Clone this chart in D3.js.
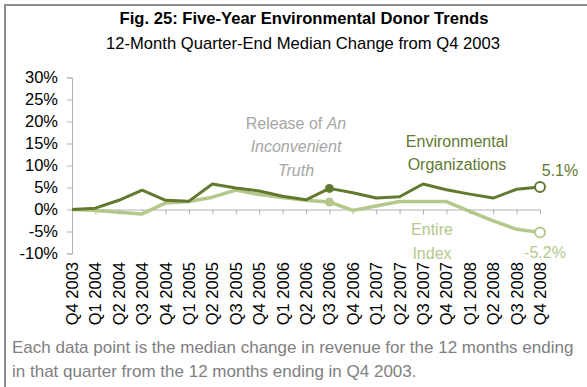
<!DOCTYPE html>
<html>
<head>
<meta charset="utf-8">
<script src="https://cdn.jsdelivr.net/npm/d3@7"></script>
<style>
  body { margin: 0; background: #fff; }
  svg { display: block; font-family: "Liberation Sans", Arial, sans-serif; }
</style>
</head>
<body>
<script>
// quarters along the x axis
var quarters = ["Q4 2003","Q1 2004","Q2 2004","Q3 2004","Q4 2004","Q1 2005","Q2 2005","Q3 2005",
  "Q4 2005","Q1 2006","Q2 2006","Q3 2006","Q4 2006","Q1 2007","Q2 2007","Q3 2007","Q4 2007",
  "Q1 2008","Q2 2008","Q3 2008","Q4 2008"];

// median change from Q4 2003, percent
var envOrgs = [0, 0.3, 2.1, 4.4, 2.1, 1.9, 5.8, 4.9, 4.2, 3.0, 2.2, 4.8, 3.8, 2.6, 2.9, 5.8, 4.5,
  3.5, 2.6, 4.6, 5.1];
var entireIndex = [0, -0.2, -0.6, -1.0, 1.5, 1.8, 2.8, 4.4, 3.4, 2.7, 2.1, 1.7, -0.2, 0.8, 1.8, 1.8,
  1.8, -0.4, -2.6, -4.5, -5.2];

var yTicks = [-10, -5, 0, 5, 10, 15, 20, 25, 30];
var releaseIdx = 11; // Q3 2006

var W = 587, H = 387;
var DARK = "#62792f", LIGHT = "#b3c88a", NOTE = "#a6a6a6", AXIS = "#b3b3b3";

// plain hyphen for negatives, like the original
function pct(d, digits) {
  return d3.format("." + digits + "f")(d).replace("\u2212", "-") + "%";
}

var svg = d3.select("body").append("svg")
  .attr("width", W)
  .attr("height", H);

// frame (only top and left edge are visible in the picture)
svg.append("path")
  .attr("d", "M5," + H + "L5,5L" + W + ",5")
  .attr("fill", "none")
  .attr("stroke", "#8c8c8c")
  .attr("stroke-width", 2);

svg.append("text")
  .attr("x", 304).attr("y", 24)
  .attr("text-anchor", "middle")
  .style("font-size", "16.6px").style("font-weight", "bold")
  .text("Fig. 25: Five-Year Environmental Donor Trends");
svg.append("text")
  .attr("x", 303).attr("y", 49)
  .attr("text-anchor", "middle")
  .style("font-size", "16.6px")
  .text("12-Month Quarter-End Median Change from Q4 2003");

var x = d3.scalePoint().domain(quarters).range([72, 540]);
var y = d3.scaleLinear().domain([-10, 30]).range([253.5, 77.5]);

// y axis
var yAxis = svg.append("g")
  .attr("transform", "translate(72,0)")
  .call(d3.axisLeft(y).tickValues(yTicks).tickSize(5).tickPadding(9)
    .tickFormat(function (d) { return pct(d, 0); }));
yAxis.select(".domain").attr("stroke", AXIS);
yAxis.selectAll(".tick line").attr("stroke", AXIS);
yAxis.selectAll("text").attr("fill", "#000").style("font-size", "16.5px").attr("font-family", null);

// x axis at zero
var xAxis = svg.append("g")
  .attr("transform", "translate(0," + y(0) + ")")
  .call(d3.axisBottom(x).tickSize(5).tickSizeOuter(0));
xAxis.select(".domain").attr("stroke", AXIS);
xAxis.selectAll(".tick line").attr("stroke", AXIS);
xAxis.selectAll("text").remove();

// rotated quarter labels
svg.append("g").selectAll("text")
  .data(quarters)
  .enter().append("text")
  .attr("transform", function (d) { return "translate(" + (x(d) + 6) + ",262) rotate(-90)"; })
  .attr("text-anchor", "end")
  .style("font-size", "16.5px")
  .text(function (d) { return d; });

var line = d3.line()
  .x(function (d, i) { return x(quarters[i]); })
  .y(function (d) { return y(d); });

svg.append("path").datum(entireIndex)
  .attr("d", line).attr("fill", "none")
  .attr("stroke", LIGHT).attr("stroke-width", 3.5).attr("stroke-linejoin", "round");
svg.append("path").datum(envOrgs)
  .attr("d", line).attr("fill", "none")
  .attr("stroke", DARK).attr("stroke-width", 3).attr("stroke-linejoin", "round");

// release markers and end markers
[[entireIndex, LIGHT], [envOrgs, DARK]].forEach(function (s) {
  svg.append("circle")
    .attr("cx", x(quarters[releaseIdx])).attr("cy", y(s[0][releaseIdx]))
    .attr("r", 4.5).attr("fill", s[1]);
  var last = s[0].length - 1;
  svg.append("circle")
    .attr("cx", x(quarters[last])).attr("cy", y(s[0][last]))
    .attr("r", 5).attr("fill", "#fff")
    .attr("stroke", s[1]).attr("stroke-width", 2);
});

// annotations
var rel = svg.append("text").attr("text-anchor", "middle").attr("fill", NOTE).style("font-size", "16px");
rel.append("tspan").attr("x", 296).attr("y", 129).text("Release of ")
  .append("tspan").style("font-style", "italic").text("An");
rel.append("tspan").attr("x", 296).attr("y", 152).style("font-style", "italic").text("Inconvenient");
rel.append("tspan").attr("x", 296).attr("y", 176).style("font-style", "italic").text("Truth");

var env = svg.append("text").attr("text-anchor", "middle").attr("fill", DARK).style("font-size", "16px");
env.append("tspan").attr("x", 457).attr("y", 147).text("Environmental");
env.append("tspan").attr("x", 457).attr("y", 170).text("Organizations");

var ent = svg.append("text").attr("text-anchor", "middle").attr("fill", LIGHT).style("font-size", "16px");
ent.append("tspan").attr("x", 432).attr("y", 235).text("Entire");
ent.append("tspan").attr("x", 432).attr("y", 259).text("Index");

svg.append("text").attr("x", 560).attr("y", 176).attr("text-anchor", "middle")
  .attr("fill", DARK).style("font-size", "16px")
  .text(pct(envOrgs[envOrgs.length - 1], 1));
svg.append("text").attr("x", 545).attr("y", 258).attr("text-anchor", "middle")
  .attr("fill", LIGHT).style("font-size", "16px")
  .text(pct(entireIndex[entireIndex.length - 1], 1));

// footnote
var note = svg.append("text").attr("fill", "#808080").style("font-size", "17px");
note.append("tspan").attr("x", 12).attr("y", 353)
  .text("Each data point is the median change in revenue for the 12 months ending");
note.append("tspan").attr("x", 12).attr("y", 377)
  .text("in that quarter from the 12 months ending in Q4 2003.");
</script>
</body>
</html>
